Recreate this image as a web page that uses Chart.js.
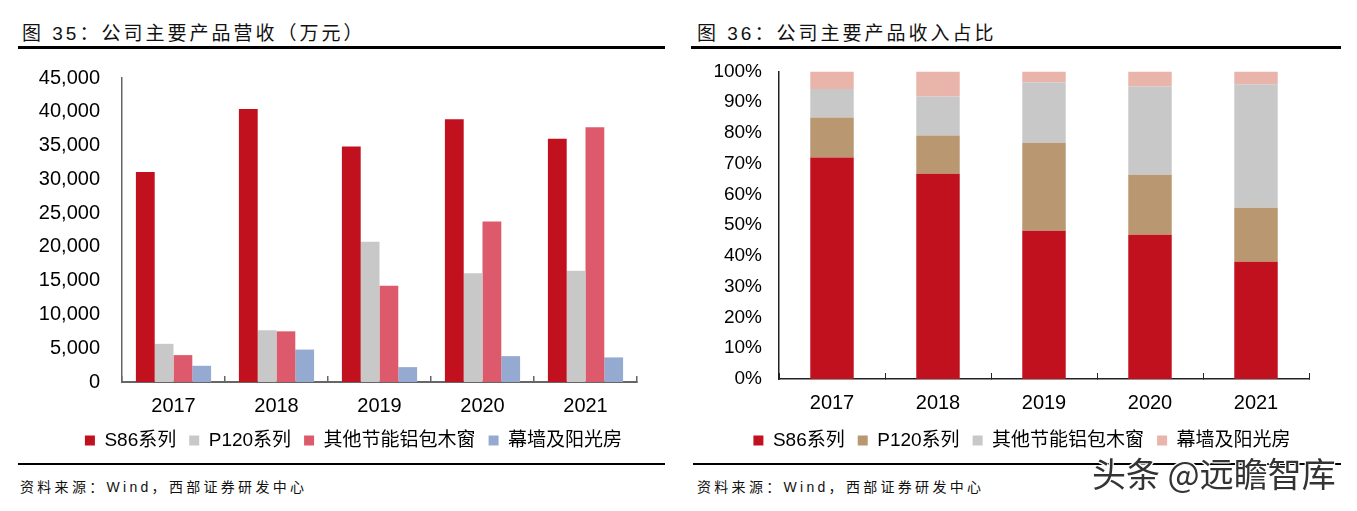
<!DOCTYPE html>
<html><head><meta charset="utf-8">
<script src="https://cdn.jsdelivr.net/npm/chart.js@4.4.0/dist/chart.umd.min.js"></script>
<style>
body{margin:0;width:1357px;height:511px;background:#fff;position:relative;overflow:hidden;font-family:"Liberation Sans","Noto Sans CJK SC",sans-serif;color:#111;}
.title{position:absolute;top:18px;font-size:19px;letter-spacing:3px;white-space:nowrap;}
.rule{position:absolute;height:3px;background:#000;}
.src{position:absolute;top:476px;font-size:14px;letter-spacing:3.3px;white-space:nowrap;}
.box{position:absolute;}
.wm{position:absolute;left:1092px;top:448px;font-size:34px;color:#333;white-space:nowrap;font-family:"Noto Sans CJK SC",sans-serif;
 text-shadow:1px 1px 0 #fff,-1px -1px 0 #fff,1px -1px 0 #fff,-1px 1px 0 #fff;}
</style></head>
<body>
<div class="title" style="left:22px">图 35：公司主要产品营收（万元）</div>
<div class="rule" style="left:18px;width:647px;top:46px"></div>
<div class="title" style="left:697px">图 36：公司主要产品收入占比</div>
<div class="rule" style="left:691px;width:650px;top:46px"></div>
<div class="box" style="left:20px;top:44px;width:645px;height:416px"><canvas id="c1"></canvas></div>
<div class="box" style="left:691px;top:43px;width:650px;height:417px"><canvas id="c2"></canvas></div>
<div class="rule" style="left:18px;width:647px;top:463px;height:2px"></div>
<div class="rule" style="left:693px;width:648px;top:463px;height:2px"></div>
<div class="src" style="left:20px">资料来源：Wind，西部证券研发中心</div>
<div class="src" style="left:697px">资料来源：Wind，西部证券研发中心</div>
<div class="wm">头条 @远瞻智库</div>
<script>
const years = ['2017','2018','2019','2020','2021'];
const seriesNames = ['S86系列','P120系列','其他节能铝包木窗','幕墙及阳光房'];
// 图35 revenue (万元)
const revS86 = [31100, 40400, 34850, 38900, 36000];
const revP120 = [5650, 7650, 20750, 16100, 16450];
const revOther = [3980, 7500, 14250, 23750, 37700];
const revCurtain = [2400, 4800, 2200, 3830, 3640];
const revTicks = [0,5000,10000,15000,20000,25000,30000,35000,40000,45000];
// 图36 share (%)
const shareS86 = [72.0, 66.7, 48.2, 46.9, 38.1];
const shareP120 = [13.0, 12.5, 28.6, 19.5, 17.6];
const shareOther = [9.3, 12.6, 19.7, 28.7, 40.1];
const shareCurtain = [5.7, 8.2, 3.5, 4.9, 4.2];
const shareTicks = [0,10,20,30,40,50,60,70,80,90,100];

const FONT = '"Liberation Sans","Noto Sans CJK SC",sans-serif';
Chart.defaults.font.family = FONT;
Chart.defaults.color = '#000';

const leftColors = ['#C1111E','#C8C8C8','#DC5A6B','#95AAD1'];
const rightColors = ['#C1111E','#B99771','#C8C8C8','#E9B4A9'];

function legendShift(dx){
  return {id:'legendShift', afterLayout(chart){ const l = chart.legend; if(l){ l.left += dx; l.right += dx; } }};
}

new Chart(document.getElementById('c1'), {
  type:'bar',
  data:{labels:years, datasets:[revS86,revP120,revOther,revCurtain].map((d,i)=>({
    label:seriesNames[i], data:d, backgroundColor:leftColors[i], borderWidth:0,
    categoryPercentage:0.73, barPercentage:1.0}))},
  options:{
    responsive:true, maintainAspectRatio:false, animation:false,
    layout:{padding:{top:0,right:28,left:0,bottom:0}},
    plugins:{
      tooltip:{enabled:false},
      legend:{position:'bottom',labels:{boxWidth:10,boxHeight:10,padding:13,font:{size:19},color:'#000'}}
    },
    scales:{
      x:{grid:{display:true,drawOnChartArea:false,tickLength:-6,color:'#666',lineWidth:1.5,offset:true},
         border:{color:'#666',width:2},
         ticks:{font:{size:20},color:'#000',padding:18},
         afterFit:s=>{s.height-=18;}},
      y:{min:0,max:45000,afterBuildTicks:s=>{s.ticks=revTicks.map(v=>({value:v}));},
         grid:{display:false,drawTicks:false},border:{color:'#666',width:1.5},
         ticks:{font:{size:20},color:'#000',padding:22,callback:v=>v.toLocaleString('en-US')},
         afterFit:s=>{s.width=102;}}
    }
  },
  plugins:[legendShift(25)]
});

new Chart(document.getElementById('c2'), {
  type:'bar',
  data:{labels:years, datasets:[shareS86,shareP120,shareOther,shareCurtain].map((d,i)=>({
    label:seriesNames[i], data:d, backgroundColor:rightColors[i], borderWidth:0,
    categoryPercentage:1.0, barPercentage:0.41}))},
  options:{
    responsive:true, maintainAspectRatio:false, animation:false,
    layout:{padding:{top:0,right:32,left:0,bottom:0}},
    plugins:{
      tooltip:{enabled:false},
      legend:{position:'bottom',labels:{boxWidth:10,boxHeight:10,padding:13,font:{size:19},color:'#000'}}
    },
    scales:{
      x:{stacked:true,grid:{display:true,drawOnChartArea:false,tickLength:-6,color:'#222',lineWidth:1,offset:true},
         border:{color:'#222',width:1.5},
         ticks:{font:{size:20},color:'#000',padding:18},
         afterFit:s=>{s.height-=15;}},
      y:{stacked:true,min:0,max:100,afterBuildTicks:s=>{s.ticks=shareTicks.map(v=>({value:v}));},
         grid:{display:false,drawTicks:false},border:{color:'#222',width:1.5},
         ticks:{font:{size:19},color:'#000',padding:17,callback:v=>v+'%'},
         afterFit:s=>{s.width=88;}}
    }
  },
  plugins:[legendShift(22)]
});
</script>
</body></html>
